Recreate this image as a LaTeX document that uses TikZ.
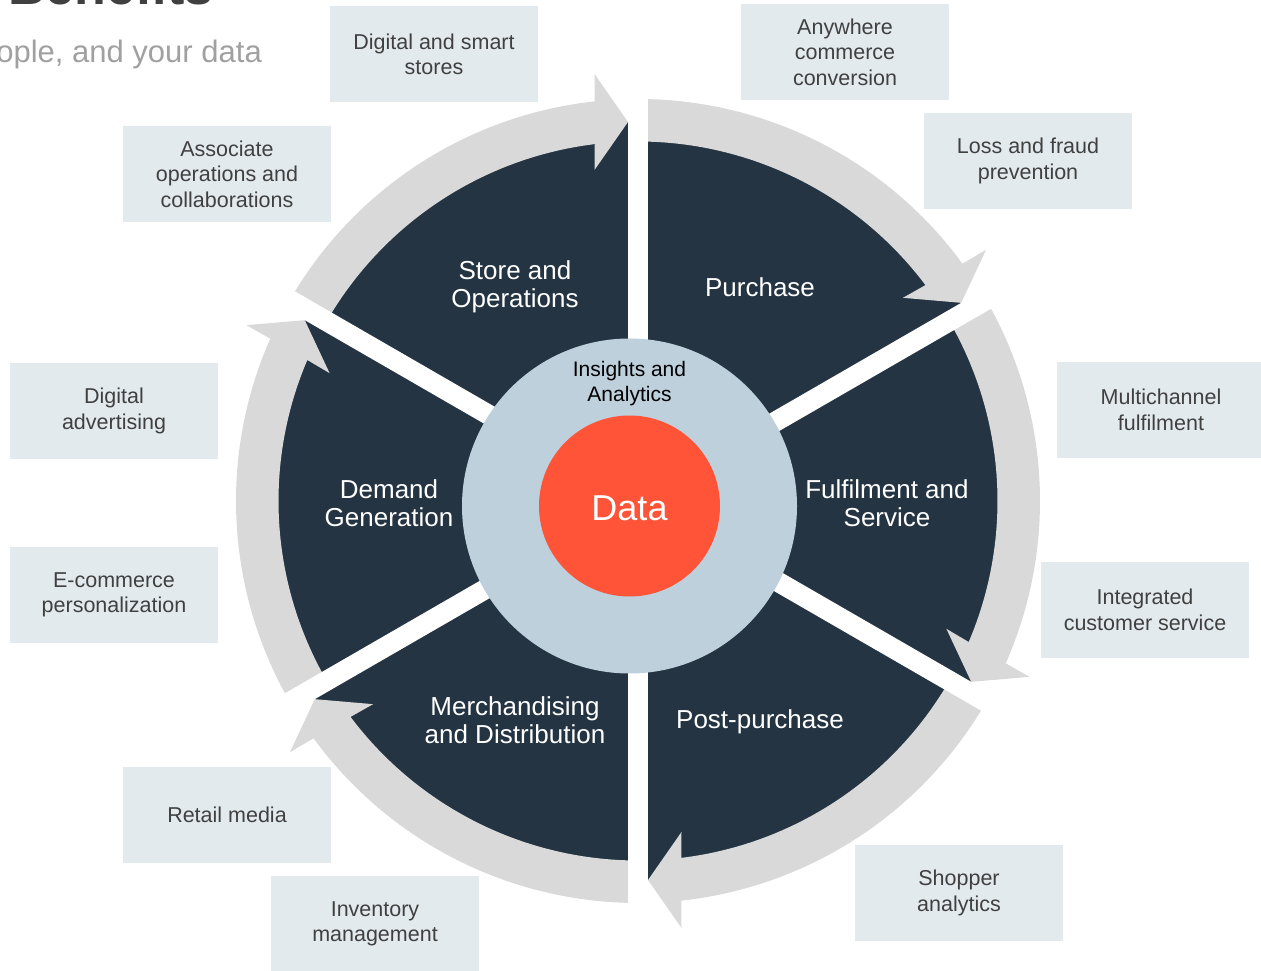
\documentclass[tikz,border=0pt]{standalone}
\usepackage{fontspec}
\setmainfont{Liberation Sans}
\usepackage{xcolor}
\definecolor{SEGMENTCOLOR}{HTML}{243442}
\definecolor{ARROWCOLOR}{HTML}{D9D9D9}
\definecolor{INSIGHTCOLOR}{HTML}{BDD0DC}
\definecolor{DATACOLOR}{HTML}{FF5437}
\definecolor{BOXCOLOR}{HTML}{E3EAEE}
\definecolor{BOXTEXTCOLOR}{HTML}{404040}
\definecolor{TITLECOLOR}{HTML}{404040}
\definecolor{SUBTITLECOLOR}{HTML}{A0A0A0}
\usepackage{tikz}
\usetikzlibrary{calc}
\tikzset{
  benefit-style/.style = {
    rectangle, fill=BOXCOLOR, text=BOXTEXTCOLOR,
    minimum width=208pt,
    minimum height=96pt,
    inner sep=0pt, align=center,
    font=\fontsize{21.5}{25.5}\selectfont
  },
  segment-style/.style = {
    text=white, align=center, inner sep=0pt,
    font=\fontsize{26}{27.5}\selectfont
  },
  gap-style/.style = {
    draw=white, line width=20pt
  },
  arrow-style/.style = {
    fill=ARROWCOLOR
  },
  ring-style/.style = {
    circle, inner sep=0pt, minimum size=#1
  }
}
\def\createArrow head:#1;{
  \begin{scope}[shift={(638,469)}, rotate=#1]
    \path[arrow-style] (60:402) arc[start angle=60, end angle=6.18, radius=402]
      -- (427,43.5) -- (379,10) -- (331,43.5) -- (6.91:359.5)
      arc[start angle=6.91, end angle=60, radius=359.5] -- cycle;
  \end{scope}
}
\def\createGap angle:#1;{
  \draw[gap-style] (638,469) -- ++(#1:440);
}

\begin{document}
\begin{tikzpicture}[x=1pt, y=1pt]
  \useasboundingbox (0,0) rectangle (1261,970);

  \node[anchor=base west, inner sep=0pt, text=TITLECOLOR,
        font=\fontsize{52}{60}\selectfont\bfseries] (title) at (8,965) {Benefits};
  \node[anchor=base east, inner sep=0pt, text=SUBTITLECOLOR,
        font=\fontsize{31}{36}\selectfont] (subtitle) at (262,907) {ople, and your data};

  % wheel
  \fill[SEGMENTCOLOR] (638,469) circle[radius=379];
  \createArrow head:90;
  \createArrow head:30;
  \createArrow head:-30;
  \createArrow head:-90;
  \createArrow head:-150;
  \createArrow head:150;
  \createGap angle:90;
  \createGap angle:30;
  \createGap angle:-30;
  \createGap angle:-90;
  \createGap angle:-150;
  \createGap angle:150;

  \node[ring-style=335pt, fill=INSIGHTCOLOR] (insights) at (629.5,464) {};
  \node[ring-style=181pt, fill=DATACOLOR] (data) at (629.5,464) {};
  \node[text=white, inner sep=0pt, font=\fontsize{36}{40}\selectfont]
        (data-label) at (629.5,462) {Data};
  \node[align=center, inner sep=0pt, font=\fontsize{21}{25}\selectfont]
        (insights-label) at (629.5,586.5) {Insights and\\Analytics};

  \node[segment-style] (store) at (515,683) {Store and\\Operations};
  \node[segment-style] (purchase) at (760,683) {Purchase};
  \node[segment-style] (fulfilment) at (887,467) {Fulfilment and\\Service};
  \node[segment-style] (postpurchase) at (760,248.5) {Post-purchase};
  \node[segment-style] (merchandising) at (515,250) {Merchandising\\and Distribution};
  \node[segment-style] (demand) at (389,467) {Demand\\Generation};

  % benefits
  \node[benefit-style] (smartstores) at (434,915.5) {Digital and smart\\stores};
  \node[benefit-style] (anywhere) at (845,918) {Anywhere\\commerce\\conversion};
  \node[benefit-style] (associate) at (227,796) {Associate\\operations and\\collaborations};
  \node[benefit-style] (lossfraud) at (1028,809) {Loss and fraud\\prevention};
  \node[benefit-style] (advertising) at (114,559) {Digital\\advertising};
  \node[benefit-style] (multichannel) at (1161,560) {Multichannel\\fulfilment};
  \node[benefit-style] (personalization) at (114,375) {E-commerce\\personalization};
  \node[benefit-style] (customerservice) at (1145,360) {Integrated\\customer service};
  \node[benefit-style] (retailmedia) at (227,155) {Retail media};
  \node[benefit-style] (inventory) at (375,46) {Inventory\\management};
  \node[benefit-style] (shopper) at (959,77) {Shopper\\analytics};
\end{tikzpicture}
\end{document}
